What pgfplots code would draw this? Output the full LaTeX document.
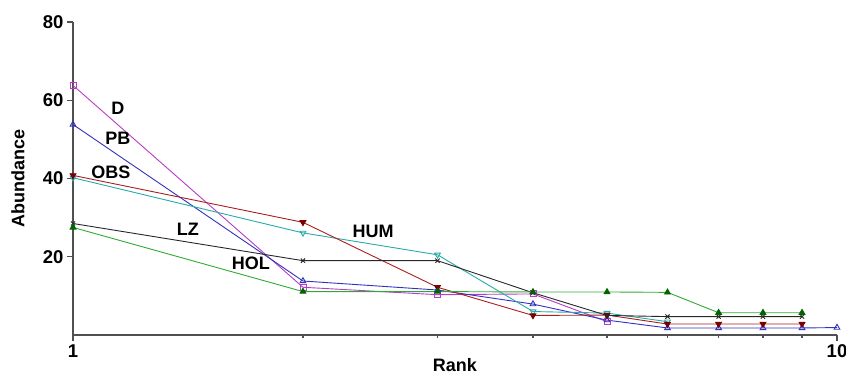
\documentclass[border=0pt]{standalone}
\usepackage{fontspec}
\setmainfont{Liberation Sans}
\usepackage{pgfplots}
\pgfplotsset{compat=1.18}
\definecolor{cD}{RGB}{185,60,200}
\definecolor{cPB}{RGB}{50,50,190}
\definecolor{cOBS}{RGB}{170,30,30}
\definecolor{cOBSf}{RGB}{120,0,0}
\definecolor{cHUM}{RGB}{40,170,170}
\definecolor{cLZ}{RGB}{40,40,40}
\definecolor{cHOL}{RGB}{50,170,50}
\definecolor{cHOLf}{RGB}{0,100,0}
\definecolor{axc}{RGB}{80,80,80}
\begin{document}
\begin{tikzpicture}
\path[use as bounding box] (-73pt,-40pt) rectangle (773pt,335pt);
\begin{axis}[
  at={(0,0)}, anchor=south west,
  scale only axis, width=764pt, height=313pt,
  xmode=log, xmin=1, xmax=10, ymin=0, ymax=80,
  axis lines=left, axis line style={axc, line width=1.2pt, -},
  xtick={1,10}, xticklabels={1,10}, minor xtick={},
  ytick={20,40,60,80},
  tick align=outside, major tick length=6pt,
  tick style={axc, line width=1.1pt},
  ticklabel style={font=\fontsize{18.5}{20}\selectfont\bfseries},
  /pgf/number format/assume math mode=true,
  every axis y label/.style={at={(axis description cs:-0.072,0.5)}, rotate=90, anchor=center, font=\fontsize{18}{20}\selectfont\bfseries},
  every axis x label/.style={at={(axis description cs:0.5,-0.095)}, anchor=center, inner sep=0pt, font=\fontsize{18}{20}\selectfont\bfseries},
  xlabel={Rank}, ylabel={Abundance},
  clip=false,
]
\addplot[cD, line width=0.9pt, mark=square, mark size=3pt, mark options={solid}] coordinates {(1,63.8) (2,12.2) (3,10.3) (4,10.5) (5,3.4)};
\addplot[cPB, line width=0.9pt, mark=triangle, mark size=3.3pt] coordinates {(1,53.8) (2,13.8) (3,11.5) (4,7.9) (5,3.8) (6,1.8) (7,1.8) (8,1.8) (9,1.8) (10,1.9)};
\addplot[cHUM, line width=0.9pt, mark=triangle, mark size=3.3pt, mark options={rotate=180}] coordinates {(1,40.2) (2,26.1) (3,20.5) (4,6) (5,5.6) (6,3.4)};
\addplot[cOBS, line width=0.9pt, mark=triangle*, mark size=3.3pt, mark options={rotate=180, fill=cOBSf, draw=cOBSf}] coordinates {(1,40.8) (2,28.8) (3,12.2) (4,5.0) (5,5.1) (6,2.8) (7,2.8) (8,2.8) (9,2.8)};
\addplot[cLZ, line width=0.9pt, mark=x, mark size=3pt] coordinates {(1,28.5) (2,19) (3,19) (4,10.8) (5,5) (6,4.7) (7,4.7) (8,4.7) (9,4.7)};
\addplot[cHOL, line width=0.9pt, mark=triangle*, mark size=3.3pt, mark options={fill=cHOLf, draw=cHOLf}] coordinates {(1,27.5) (2,11.1) (3,11.1) (4,11) (5,11) (6,10.9) (7,5.7) (8,5.7) (9,5.7)};
\begin{scope}[every node/.style={font=\fontsize{18}{20}\selectfont\bfseries, inner sep=0pt}]
\node at (axis cs:1.145,57.9) {D};
\node at (axis cs:1.145,50.3) {PB};
\node at (axis cs:1.121,41.5) {OBS};
\node at (axis cs:1.414,26.9) {LZ};
\node at (axis cs:1.71,18.2) {HOL};
\node at (axis cs:2.47,26.4) {HUM};
\end{scope}
\end{axis}
\end{tikzpicture}
\end{document}
